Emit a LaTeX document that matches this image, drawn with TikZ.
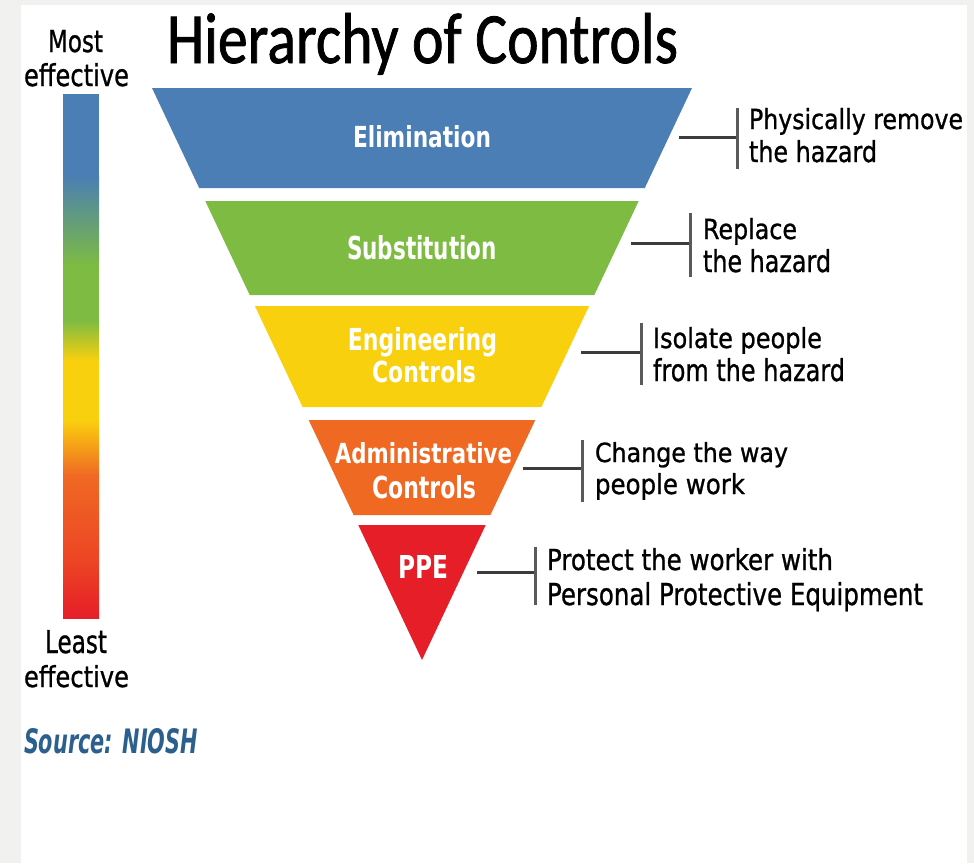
\documentclass[tikz,border=0pt]{standalone}
\usepackage{fontspec}
\usepackage{graphicx}
\setmainfont{DejaVu Sans}
\newfontfamily\hoctitle[FakeBold=1.2]{Carlito}
\newfontfamily\hoccall[FakeBold=1.0]{DejaVu Sans}
\definecolor{hocblue}{HTML}{4A7EB4}
\definecolor{hocgreen}{HTML}{7DBB42}
\definecolor{hocyellow}{HTML}{F9D00D}
\definecolor{hocorange}{HTML}{F06923}
\definecolor{hocred}{HTML}{E61E28}
\definecolor{hocredor}{HTML}{EC4524}
\definecolor{hocline}{HTML}{3C3C3C}
\definecolor{hocbar}{HTML}{5A5A5A}
\definecolor{hocsrc}{HTML}{2B5F8E}
\definecolor{hocgrey}{HTML}{F1F1EF}
\begin{document}
\begin{tikzpicture}[x=1pt,y=-1pt,
  lbl/.style={inner sep=0pt, outer sep=0pt, anchor=base west, text=black, font=\hoccall},
  bandtxt/.style={inner sep=0pt, outer sep=0pt, anchor=base, text=white, font=\bfseries},
  leader/.style={draw=hocline, line width=3pt},
  bracket/.style={draw=hocbar, line width=3pt}]
\useasboundingbox (0,0) rectangle (974,863);
% page background
\fill[hocgrey] (0,0) rectangle (974,863);
\fill[white] (21,5) rectangle (967,863);

% title
\node[lbl] (title) at (167,63) {\resizebox{511pt}{50pt}{\hoctitle Hierarchy of Controls}};

% effectiveness scale
\node[lbl] (most) at (48,52) {\resizebox{55pt}{22pt}{Most}};
\node[lbl] (eff1) at (24,86) {\resizebox{105pt}{23pt}{effective}};
\fill[hocblue] (63,94) rectangle (99,175.5);
\shade[top color=hocblue, bottom color=hocgreen] (63,175) rectangle (99,265.5);
\fill[hocgreen] (63,265) rectangle (99,320.5);
\shade[top color=hocgreen, bottom color=hocyellow] (63,320) rectangle (99,360.5);
\fill[hocyellow] (63,360) rectangle (99,420.5);
\shade[top color=hocyellow, bottom color=hocorange] (63,420) rectangle (99,475.5);
\shade[top color=hocorange, bottom color=hocredor] (63,475) rectangle (99,560.5);
\shade[top color=hocredor, bottom color=hocred] (63,560) rectangle (99,618);
\node[lbl] (least) at (45,653) {\resizebox{62pt}{23pt}{Least}};
\node[lbl] (eff2) at (24,687) {\resizebox{105pt}{22pt}{effective}};
\node[lbl, text=hocsrc, font=\normalfont] (src) at (24,753) {\resizebox{174pt}{25pt}{\bfseries\itshape Source: NIOSH}};

% funnel bands
\fill[hocblue]   (152,88) -- (692,88) -- (644.8,188) -- (199.2,188) -- cycle;
\fill[hocgreen]  (205.3,201) -- (638.7,201) -- (594.3,295) -- (249.7,295) -- cycle;
\fill[hocyellow] (254.9,306) -- (589.1,306) -- (541.4,407) -- (302.6,407) -- cycle;
\fill[hocorange] (308.7,420) -- (535.3,420) -- (490.4,515) -- (353.6,515) -- cycle;
\fill[hocred]    (358.3,525) -- (485.7,525) -- (422,660) -- cycle;

% band labels
\node[bandtxt] (elim) at (422,147) {\resizebox{138pt}{22pt}{Elimination}};
\node[bandtxt] (subst) at (422,259) {\resizebox{150pt}{24pt}{Substitution}};
\node[bandtxt] (eng1) at (422.5,350) {\resizebox{149pt}{23pt}{Engineering}};
\node[bandtxt] (eng2) at (424,382) {\resizebox{104pt}{22pt}{Controls}};
\node[bandtxt] (adm1) at (423.5,463) {\resizebox{177pt}{21pt}{Administrative}};
\node[bandtxt] (adm2) at (424,498) {\resizebox{104pt}{23pt}{Controls}};
\node[bandtxt] (ppe) at (423,578) {\resizebox{50pt}{23pt}{PPE}};

% callout anchor points
\coordinate (l1s) at (679,137); \coordinate (l1e) at (737,137);
\coordinate (b1t) at (737,108); \coordinate (b1b) at (737,169);
\coordinate (l2s) at (631,243); \coordinate (l2e) at (690,243);
\coordinate (b2t) at (690,213); \coordinate (b2b) at (690,277);
\coordinate (l3s) at (581,352); \coordinate (l3e) at (641,352);
\coordinate (b3t) at (641,323); \coordinate (b3b) at (641,385);
\coordinate (l4s) at (523,468); \coordinate (l4e) at (582,468);
\coordinate (b4t) at (582,440); \coordinate (b4b) at (582,502);
\coordinate (l5s) at (477,572); \coordinate (l5e) at (535,572);
\coordinate (b5t) at (535,547); \coordinate (b5b) at (535,605);

\draw[leader] (l1s) -- (l1e);  \draw[bracket] (b1t) -- (b1b);
\draw[leader] (l2s) -- (l2e);  \draw[bracket] (b2t) -- (b2b);
\draw[leader] (l3s) -- (l3e);  \draw[bracket] (b3t) -- (b3b);
\draw[leader] (l4s) -- (l4e);  \draw[bracket] (b4t) -- (b4b);
\draw[leader] (l5s) -- (l5e);  \draw[bracket] (b5t) -- (b5b);

% callout texts
\node[lbl] (c1a) at (749,129) {\resizebox{214pt}{21pt}{Physically remove}};
\node[lbl] (c1b) at (749,162) {\resizebox{128pt}{22pt}{the hazard}};
\node[lbl] (c2a) at (703,239) {\resizebox{94pt}{21pt}{Replace}};
\node[lbl] (c2b) at (703,272) {\resizebox{128pt}{23pt}{the hazard}};
\node[lbl] (c3a) at (653,348) {\resizebox{169pt}{21pt}{Isolate people}};
\node[lbl] (c3b) at (653,381) {\resizebox{192pt}{23pt}{from the hazard}};
\node[lbl] (c4a) at (595,462) {\resizebox{193pt}{20pt}{Change the way}};
\node[lbl] (c4b) at (595,494) {\resizebox{150pt}{21pt}{people work}};
\node[lbl] (c5a) at (547,570) {\resizebox{286pt}{22pt}{Protect the worker with}};
\node[lbl] (c5b) at (547,605) {\resizebox{376pt}{23pt}{Personal Protective Equipment}};
\end{tikzpicture}
\end{document}
